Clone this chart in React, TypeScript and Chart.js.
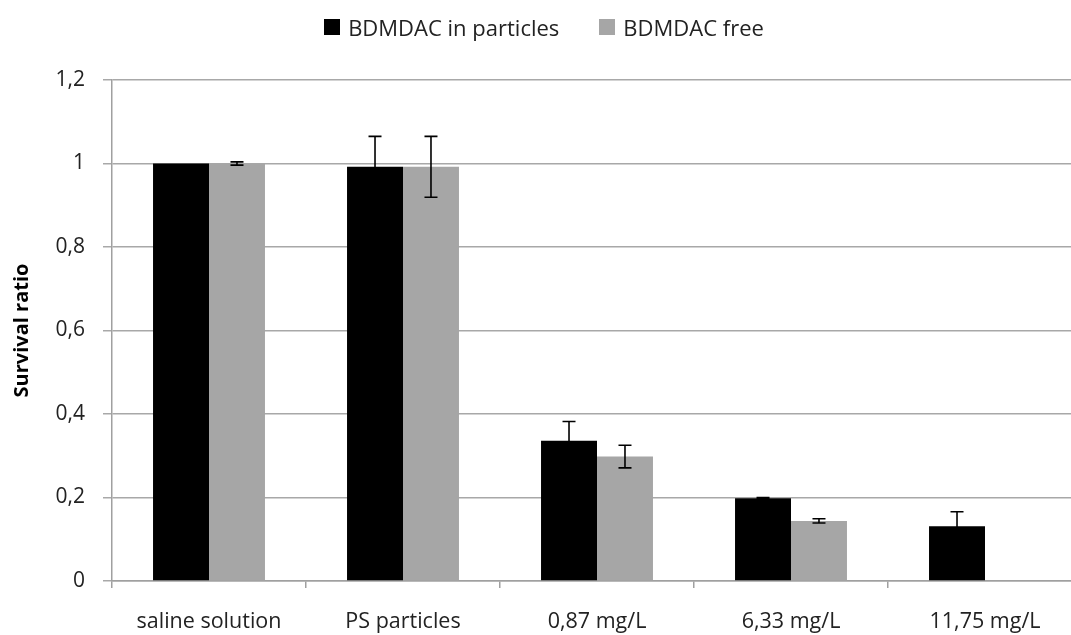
import React, { useEffect, useRef } from "react";
import { Chart, registerables } from "chart.js";

Chart.register(...registerables);

// Survival ratio per treatment
const categories = ["saline solution", "PS particles", "0,87 mg/L", "6,33 mg/L", "11,75 mg/L"];
const inParticles = [1.0, 0.992, 0.336, 0.198, 0.131];
const inParticlesErr = [0, 0.073, 0.046, 0.002, 0.035];
const free = [1.0, 0.992, 0.298, 0.144, null];
const freeErr = [0.004, 0.073, 0.027, 0.005, null];
const seriesNames = ["BDMDAC in particles", "BDMDAC free"];
const seriesColors = ["#000000", "#a6a6a6"];
const yMin = 0;
const yMax = 1.2;
const yStep = 0.2;

const FONT = "'Open Sans', 'Noto Sans', sans-serif";

// Draws symmetric error bars with caps on top of each bar
const errorBarPlugin = {
  id: "errorBars",
  afterDatasetsDraw(chart: any) {
    const ctx = chart.ctx;
    const y = chart.scales.y;
    const errs = [inParticlesErr, freeErr];
    chart.data.datasets.forEach((ds: any, di: number) => {
      const meta = chart.getDatasetMeta(di);
      meta.data.forEach((bar: any, i: number) => {
        const v = ds.data[i];
        const e = errs[di][i];
        if (v == null || e == null || e === 0) return;
        const yTop = y.getPixelForValue(v + e);
        const yBot = y.getPixelForValue(v - e);
        const half = 6.5;
        ctx.save();
        ctx.strokeStyle = "#000";
        ctx.lineWidth = 1.6;
        ctx.beginPath();
        ctx.moveTo(bar.x, yTop);
        ctx.lineTo(bar.x, yBot);
        ctx.moveTo(bar.x - half, yTop);
        ctx.lineTo(bar.x + half, yTop);
        ctx.moveTo(bar.x - half, yBot);
        ctx.lineTo(bar.x + half, yBot);
        ctx.stroke();
        ctx.restore();
      });
    });
  },
};

export default function App() {
  const ref = useRef<HTMLCanvasElement>(null);

  useEffect(() => {
    if (!ref.current) return;
    const chart = new Chart(ref.current, {
      type: "bar",
      data: {
        labels: categories,
        datasets: [
          { label: seriesNames[0], data: inParticles, backgroundColor: seriesColors[0] },
          { label: seriesNames[1], data: free as any, backgroundColor: seriesColors[1] },
        ],
      },
      options: {
        responsive: false,
        animation: false,
        devicePixelRatio: 1,
        layout: { padding: { top: 80, right: 8, left: 0, bottom: 0 } },
        plugins: {
          legend: { display: false },
          tooltip: { enabled: false },
        },
        datasets: {
          bar: { categoryPercentage: 0.577, barPercentage: 1.0 },
        },
        scales: {
          x: {
            afterFit(scale: any) {
              scale.height = 54;
            },
            grid: {
              offset: true,
              drawOnChartArea: false,
              tickLength: 7,
              color: "#a0a0a0",
              lineWidth: 1.5,
            },
            border: { color: "#a0a0a0", width: 1.5 },
            ticks: {
              padding: 21,
              color: "#222",
              font: { family: FONT, size: 21.5 },
              maxRotation: 0,
              autoSkip: false,
            },
          },
          y: {
            min: yMin,
            max: yMax,
            afterFit(scale: any) {
              scale.width = 112;
            },
            grid: {
              color: "#a8a8a8",
              lineWidth: 1.5,
              tickLength: 9,
            },
            border: { color: "#a0a0a0", width: 1.5 },
            ticks: {
              stepSize: yStep,
              padding: 18,
              color: "#222",
              font: { family: FONT, size: 21 },
              callback: (v: any) => String(Math.round(Number(v) * 10) / 10).replace(".", ","),
            },
            title: {
              display: true,
              text: "Survival ratio",
              color: "#000",
              font: { family: FONT, size: 20, weight: "bold" },
              padding: { top: 10, bottom: 0 },
            },
          },
        },
      },
      plugins: [errorBarPlugin],
    });
    return () => chart.destroy();
  }, []);

  return (
    <div
      style={{
        position: "fixed",
        left: 0,
        top: 0,
        width: 1071,
        height: 635,
        overflow: "hidden",
        background: "#fff",
      }}
    >
      <canvas ref={ref} width={1090} height={635} style={{ display: "block" }} />
      <div
        style={{
          position: "absolute",
          left: 0,
          top: 13,
          width: 1088,
          display: "flex",
          justifyContent: "center",
          alignItems: "center",
          gap: 40,
          fontFamily: FONT,
          fontSize: 22,
          color: "#222",
          lineHeight: "28px",
        }}
      >
        {seriesNames.map((name, i) => (
          <div key={name} style={{ display: "flex", alignItems: "center", gap: 8 }}>
            <span
              style={{
                display: "inline-block",
                width: 16,
                height: 16,
                background: seriesColors[i],
              }}
            />
            <span>{name}</span>
          </div>
        ))}
      </div>
    </div>
  );
}
